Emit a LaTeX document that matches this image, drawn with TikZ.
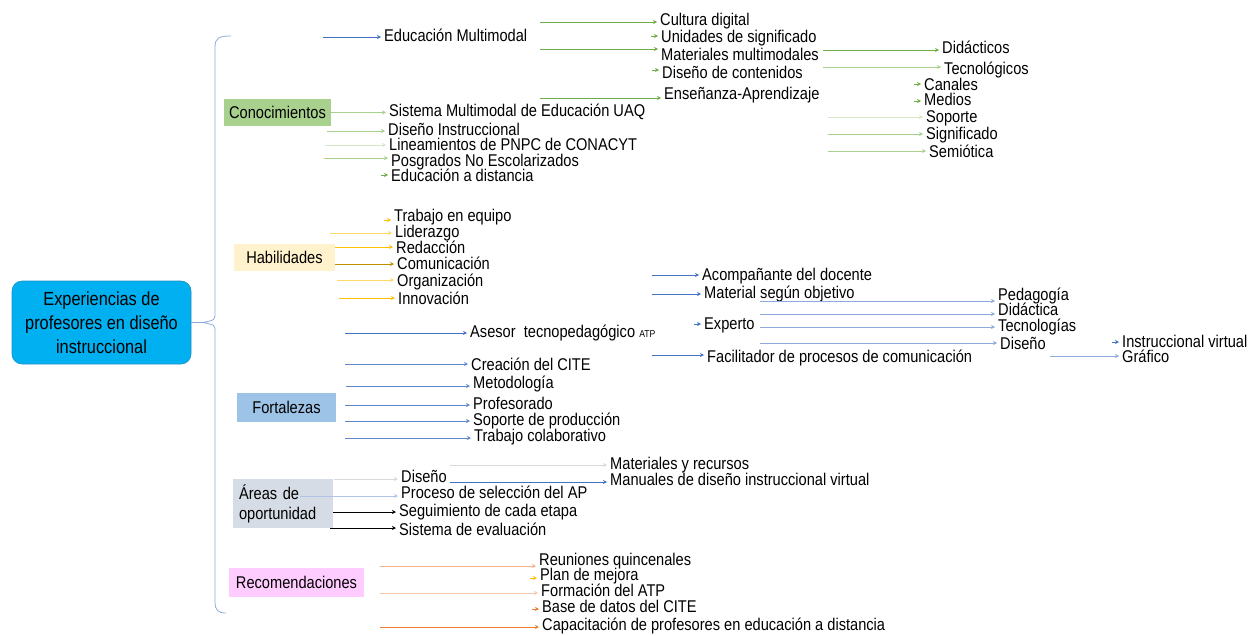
\documentclass[tikz,border=0pt]{standalone}
\usepackage{fontspec}
\setmainfont{Liberation Sans}[FakeStretch=0.86]
\usetikzlibrary{arrows.meta}
\definecolor{rootC}{HTML}{00B0F0}
\definecolor{rootD}{HTML}{1E8FC4}
\definecolor{kFill}{HTML}{A9D18E}
\definecolor{hFill}{HTML}{FFF2CC}
\definecolor{fFill}{HTML}{9DC3E6}
\definecolor{oFill}{HTML}{D6DCE5}
\definecolor{rFill}{HTML}{FFCCFF}
\definecolor{gA}{HTML}{70AD47}
\definecolor{gL}{HTML}{A9D18E}
\definecolor{gXL}{HTML}{D5E8C8}
\definecolor{bA}{HTML}{4472C4}
\definecolor{bL}{HTML}{8FAADC}
\definecolor{yA}{HTML}{FFC000}
\definecolor{yD}{HTML}{BF9000}
\definecolor{yL}{HTML}{FFD966}
\definecolor{oA}{HTML}{ED7D31}
\definecolor{oL}{HTML}{F4B183}
\definecolor{grL}{HTML}{D9D9D9}
\newcommand\myconn[4]{\coordinate (#1) at (#2); \draw[arr,#3] (#1) -- (#1 -| #4.west);}
\begin{document}
\begin{tikzpicture}[x=1pt,y=-1pt,
  leaf/.style={anchor=west, inner xsep=3pt, inner ysep=0pt, xshift=-3pt, text height=11pt, text depth=2pt, font=\fontsize{17}{18}\selectfont},
  cat/.style={inner sep=0pt, font=\fontsize{17}{20}\selectfont},
  root/.style={rounded corners=10pt, fill=rootC, draw=rootD, line width=0.6pt, minimum width=179pt, minimum height=83pt, align=center, inner sep=0pt, font=\fontsize{19}{24}\selectfont},
  arr/.style={-{Stealth[length=4pt,width=4pt]}, line width=0.8pt},
  brace/.style={draw=bL, line width=0.8pt}]
\useasboundingbox (0,0) rectangle (1252,635);

% root and brace
\node[root] (root) at (101.5,322.5) {Experiencias de\\profesores en diseño\\instruccional};
\coordinate (bm) at (203,322.5);
\coordinate (bt) at (231,36);
\coordinate (bb) at (226,613);
\draw[brace] (root.east) -- (bm);
\draw[brace] (bt) .. controls (219,36) and (215,38) .. (215,47) -- (215,313)
  .. controls (215,320) .. (bm) .. controls (215,325) .. (215,332) -- (215,602)
  .. controls (215,610) and (218,613) .. (bb);

% category boxes
\node[cat, fill=kFill, minimum width=107pt, minimum height=27pt] (K) at (277.5,112.5) {Conocimientos};
\node[cat, fill=hFill, minimum width=101pt, minimum height=27pt] (H) at (284.5,257.5) {Habilidades};
\node[cat, fill=fFill, minimum width=99pt, minimum height=29pt] (F) at (286.5,407.5) {Fortalezas};
\node[cat, fill=oFill, minimum width=100pt, minimum height=49pt, align=left, text width=88pt] (O) at (283,503.5) {Áreas de\\oportunidad};
\node[cat, fill=rFill, minimum width=135pt, minimum height=29pt] (R) at (296.5,582.5) {Recomendaciones};

% Conocimientos branch
\node[leaf] (E1) at (384,37) {Educación Multimodal};
\node[leaf] (c1) at (660,21) {Cultura digital};
\node[leaf] (c2) at (661,38) {Unidades de significado};
\node[leaf] (c3) at (661,56) {Materiales multimodales};
\node[leaf] (c4) at (662,74) {Diseño de contenidos};
\node[leaf] (c5) at (664,95) {Enseñanza-Aprendizaje};
\node[leaf] (d1) at (942,49) {Didácticos};
\node[leaf] (d2) at (944,70) {Tecnológicos};
\node[leaf] (n1) at (924,86) {Canales};
\node[leaf] (n2) at (924,101) {Medios};
\node[leaf] (n3) at (926,118) {Soporte};
\node[leaf] (n4) at (926,135) {Significado};
\node[leaf] (n5) at (929,153) {Semiótica};
\node[leaf] (k1) at (389,112) {Sistema Multimodal de Educación UAQ};
\node[leaf] (k2) at (388,131) {Diseño Instruccional};
\node[leaf] (k3) at (389,146) {Lineamientos de PNPC de CONACYT};
\node[leaf] (k4) at (391,162) {Posgrados No Escolarizados};
\node[leaf] (k5) at (391,177) {Educación a distancia};

\myconn{sE1}{323,37}{bA}{E1}
\myconn{sc1}{540,22}{gA}{c1}
\myconn{sc2}{651,36}{gA}{c2}
\myconn{sc3}{540,49}{gA}{c3}
\myconn{sc4}{652,70}{gA}{c4}
\myconn{sc5}{540,98}{gA}{c5}
\myconn{sd1}{823,50}{gA}{d1}
\myconn{sd2}{823,67}{gL}{d2}
\myconn{sn1}{914,84}{gA}{n1}
\myconn{sn2}{914,101}{gA}{n2}
\myconn{sn3}{828,117}{gXL}{n3}
\myconn{sn4}{828,134}{gL}{n4}
\myconn{sn5}{828,151}{gL}{n5}
\draw[arr,gL] (K.east) -- (K.east -| k1.west);
\myconn{sk2}{327,131}{gL}{k2}
\myconn{sk3}{325,145}{gXL}{k3}
\myconn{sk4}{324,158}{gL}{k4}
\myconn{sk5}{381,175}{gA}{k5}

% Habilidades branch
\node[leaf] (h1) at (394,217) {Trabajo en equipo};
\node[leaf] (h2) at (395,233) {Liderazgo};
\node[leaf] (h3) at (396,249) {Redacción};
\node[leaf] (h4) at (397,265) {Comunicación};
\node[leaf] (h5) at (397,282) {Organización};
\node[leaf] (h6) at (398,300) {Innovación};
\myconn{sh1}{384,220}{yA}{h1}
\myconn{sh2}{330,233}{yL}{h2}
\myconn{sh3}{335,247}{yA}{h3}
\myconn{sh4}{335,264}{yD}{h4}
\myconn{sh5}{337,280}{yL}{h5}
\myconn{sh6}{339,298}{yA}{h6}

% Asesor branch
\node[leaf] (a0) at (470,333) {Asesor\ \ tecnopedagógico {\fontsize{10}{12}\selectfont ATP}};
\node[leaf] (a1) at (702,276) {Acompañante del docente};
\node[leaf] (a2) at (704,294) {Material según objetivo};
\node[leaf] (a3) at (704,325) {Experto};
\node[leaf] (a4) at (707,358) {Facilitador de procesos de comunicación};
\node[leaf] (p1) at (998,296) {Pedagogía};
\node[leaf] (p2) at (998,311) {Didáctica};
\node[leaf] (p3) at (998,327) {Tecnologías};
\node[leaf] (p4) at (1000,345) {Diseño};
\node[leaf] (g1) at (1122,343) {Instruccional virtual};
\node[leaf] (g2) at (1122,358) {Gráfico};
\myconn{sa0}{345,333}{bA}{a0}
\myconn{sa1}{652,275}{bA}{a1}
\myconn{sa2}{652,294}{bA}{a2}
\myconn{sa3}{694,324}{bA}{a3}
\myconn{sa4}{652,355}{bA}{a4}
\myconn{sp1}{760,301}{bL}{p1}
\myconn{sp2}{760,314}{bL}{p2}
\myconn{sp3}{760,327}{bL}{p3}
\myconn{sp4}{760,343}{bL}{p4}
\myconn{sg1}{1112,342}{bA}{g1}
\myconn{sg2}{1050,356}{bL}{g2}

% Fortalezas branch
\node[leaf] (f1) at (471,366) {Creación del CITE};
\node[leaf] (f2) at (473,384) {Metodología};
\node[leaf] (f3) at (473,405) {Profesorado};
\node[leaf] (f4) at (473,421) {Soporte de producción};
\node[leaf] (f5) at (474,437) {Trabajo colaborativo};
\myconn{sf1}{345,364}{bA!85}{f1}
\myconn{sf2}{346,386}{bA!85}{f2}
\myconn{sf3}{345,405}{bA!85}{f3}
\myconn{sf4}{345,421}{bA!85}{f4}
\myconn{sf5}{345,438}{bA!85}{f5}

% Areas de oportunidad branch
\node[leaf] (o1) at (401,478) {Diseño};
\node[leaf] (o2) at (401,494) {Proceso de selección del AP};
\node[leaf] (o3) at (399,512) {Seguimiento de cada etapa};
\node[leaf] (o4) at (399,531) {Sistema de evaluación};
\node[leaf] (m1) at (610,465) {Materiales y recursos};
\node[leaf] (m2) at (610,481) {Manuales de diseño instruccional virtual};
\myconn{so1}{334,479}{grL}{o1}
\myconn{so2}{300,496}{bL!70}{o2}
\myconn{so3}{333,512}{black}{o3}
\myconn{so4}{330,528}{black}{o4}
\myconn{sm1}{450,465}{grL}{m1}
\myconn{sm2}{450,482}{bA}{m2}

% Recomendaciones branch
\node[leaf] (r1) at (539,561) {Reuniones quincenales};
\node[leaf] (r2) at (540,576) {Plan de mejora};
\node[leaf] (r3) at (541,592) {Formación del ATP};
\node[leaf] (r4) at (542,608) {Base de datos del CITE};
\node[leaf] (r5) at (542,626) {Capacitación de profesores en educación a distancia};
\myconn{sr1}{380,566}{oL}{r1}
\myconn{sr2}{530,578}{yA}{r2}
\myconn{sr3}{380,593}{oL!70}{r3}
\myconn{sr4}{532,609}{oA}{r4}
\myconn{sr5}{380,627}{oA}{r5}
\end{tikzpicture}
\end{document}
